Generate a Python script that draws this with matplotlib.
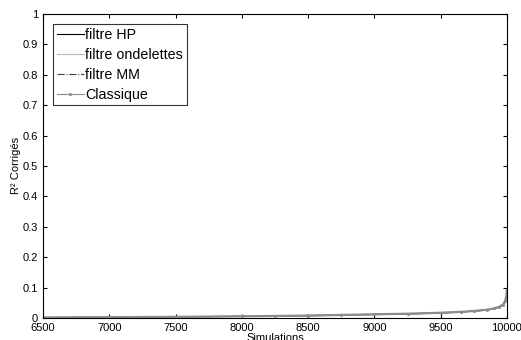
import matplotlib
matplotlib.use("Agg")
import matplotlib.pyplot as plt

plt.rcParams['font.family'] = ['Liberation Sans', 'DejaVu Sans']

# simulations (sorted R2, tail of 10000 runs)
sims = [6500, 6750, 7000, 7250, 7500, 7750, 8000, 8250, 8500, 8750, 9000,
        9250, 9500, 9650, 9750, 9850, 9900, 9940, 9970, 9985, 9995, 10000]
r2_hp = [0.001, 0.0015, 0.002, 0.0025, 0.003, 0.004, 0.005, 0.006, 0.007, 0.009, 0.011,
         0.013, 0.016, 0.019, 0.022, 0.026, 0.030, 0.035, 0.042, 0.050, 0.062, 0.080]
r2_ond = [0.0012, 0.0017, 0.0022, 0.0028, 0.0034, 0.0042, 0.0052, 0.0063, 0.0075, 0.0095, 0.0115,
          0.0135, 0.0165, 0.0195, 0.0225, 0.027, 0.031, 0.036, 0.043, 0.052, 0.065, 0.085]
r2_mm = [0.0015, 0.002, 0.0025, 0.003, 0.0037, 0.0045, 0.0055, 0.0066, 0.008, 0.010, 0.012,
         0.014, 0.017, 0.020, 0.023, 0.027, 0.031, 0.036, 0.044, 0.053, 0.066, 0.088]
r2_cls = [0.0013, 0.0018, 0.0023, 0.0029, 0.0035, 0.0043, 0.0053, 0.0064, 0.0077, 0.0097, 0.0118,
          0.0138, 0.0168, 0.0198, 0.0228, 0.027, 0.031, 0.036, 0.044, 0.054, 0.070, 0.092]

fig = plt.figure(figsize=(5.21, 3.40), dpi=100)
ax = fig.add_axes([0.0825, 0.065, 0.8905, 0.894])

ax.plot(sims, r2_hp, color='black', lw=0.8, label='filtre HP')
ax.plot(sims, r2_ond, color='#b8b8b8', lw=0.8, label='filtre ondelettes')
ax.plot(sims, r2_mm, color='#404040', lw=0.8, ls='-.', label='filtre MM')
ax.plot(sims, r2_cls, color='#8c8c8c', lw=1.6, marker='.', ms=2.5, label='Classique')

ax.set_xlim(6500, 10000)
ax.set_ylim(0, 1)
ax.set_xticks(range(6500, 10001, 500))
ax.set_yticks([0, 0.1, 0.2, 0.3, 0.4, 0.5, 0.6, 0.7, 0.8, 0.9, 1])
ax.set_yticklabels(['0', '0.1', '0.2', '0.3', '0.4', '0.5', '0.6', '0.7', '0.8', '0.9', '1'])
ax.tick_params(direction='in', labelsize=8, length=3, top=True, right=True,
               labeltop=False, labelright=False)
ax.set_xlabel('Simulations', fontsize=8, labelpad=0)
ax.set_ylabel('R² Corrigés', fontsize=8, labelpad=1)

leg = ax.legend(loc='upper left', fontsize=10.3, frameon=True, fancybox=False,
                edgecolor='black', handlelength=1.9, handletextpad=0.1,
                labelspacing=0.42, borderaxespad=0.7, borderpad=0.25)
leg.get_frame().set_linewidth(0.8)
for line in leg.get_lines():
    line.set_linewidth(0.8)

fig.savefig('out.png', dpi=100)
